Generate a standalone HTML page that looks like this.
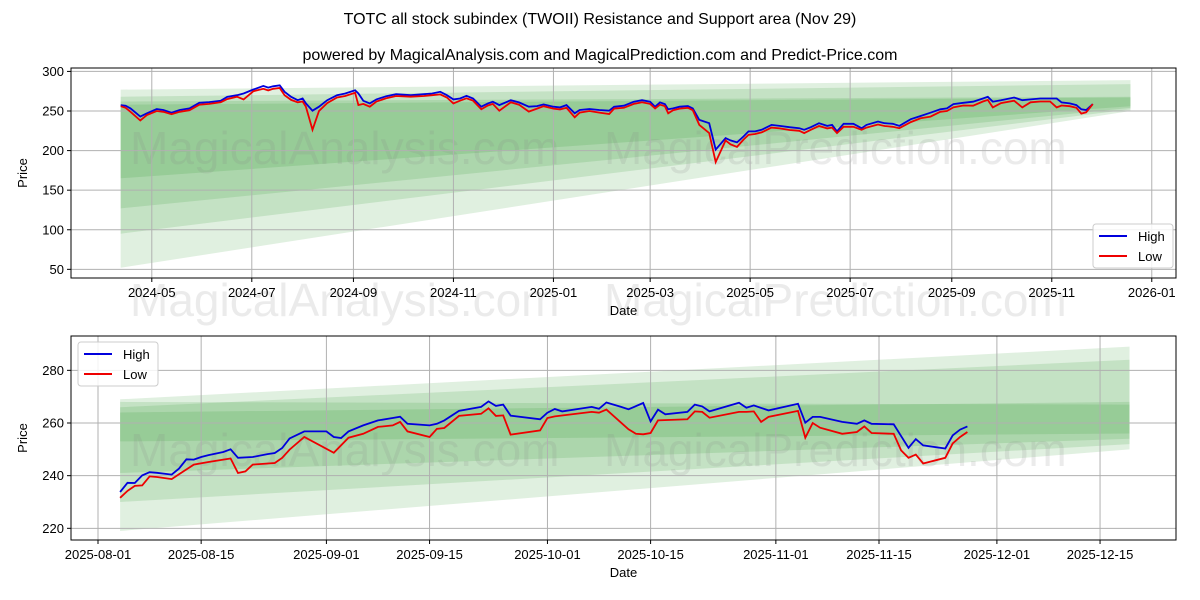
<!DOCTYPE html>
<html><head><meta charset="utf-8"><style>
body{margin:0;background:#fff;}
svg{display:block;font-family:"Liberation Sans","DejaVu Sans",sans-serif;}
</style></head><body>
<svg id="chart" width="1200" height="600" xmlns="http://www.w3.org/2000/svg">
<rect width="1200" height="600" fill="#fff"/>
<text x="600" y="24" text-anchor="middle" font-size="16">TOTC all stock subindex (TWOII) Resistance and Support area (Nov 29)</text>
<text x="600" y="60" text-anchor="middle" font-size="16">powered by MagicalAnalysis.com and MagicalPrediction.com and Predict-Price.com</text>
<g id="top"></g>
<g id="bot"></g>
</svg>
<script>
// ---- top chart data (day offset from 2024-05-01) ----
const topDays=[-19,-16,-13,-7,-3,3,7,12,17,23,29,35,42,46,52,56,62,68,71,74,78,81,85,89,92,94,98,102,107,113,118,124,126,129,133,137,143,149,158,166,171,176,180,184,188,192,196,201,205,208,212,219,224,230,235,239,245,249,253,258,261,267,273,279,282,288,294,299,304,307,310,313,315,318,322,327,330,334,340,344,350,353,357,361,364,368,372,378,383,389,395,398,402,407,412,415,418,422,428,433,436,443,447,452,456,463,469,475,481,485,489,495,501,507,510,513,518,526,531,536,542,548,552,555,560,564,567,570,574];
const topHigh=[257.5,256.7,253.3,242.9,247.1,252.5,251.2,247.9,251.2,253.3,260.4,261.2,262.9,267.9,270,272.1,277.1,281.7,279.6,281.2,282.5,274.2,267.9,263.7,265.8,259.6,250.4,255.4,263.7,270,272.1,276.2,272.1,262.9,259.6,264.6,268.7,271.2,270,271.2,272.1,274.2,270,264.6,265.8,269.2,265.8,255.4,259.6,261.7,257.5,263.7,260.8,255.4,256.2,258.3,255.4,254.6,257.5,247.1,251.2,252.5,251.2,250.4,255.4,256.7,261.7,263.7,261.7,255.4,260.8,258.7,252.1,253.3,255.4,256.2,253.3,238.7,234.6,201.2,215.8,212.9,210.4,217.9,224.2,224.2,226.2,232.5,231.2,229.6,228.3,226.2,229.6,234.6,231.2,232.5,224.2,233.8,233.8,228.3,232.5,236.7,234.6,233.8,231.2,239.6,243.7,247.9,252.1,253.3,258.7,260.4,261.7,265.8,267.9,261.7,263.7,267.1,263.7,264.6,265.8,265.8,265.8,260.8,259.6,257.5,252.1,251.2,258.7];
const topLow=[256,254,249,238,245,250,249,246,249,251,258,259,261,265,268,264.6,275,278,276,278,279,270,264,261,262,255.4,226.3,250,260,267,269,273,257.5,259,255.4,262,266,269,268,269,270,271,267,259.6,263,266,263,252.1,257,259,250.4,261,258,249.2,253,256,253,252,254,242.1,248,250,248,246.2,253,254,259,261,259,253.3,258,256,247.1,251,253,254,251,232.5,222.1,185.4,212.9,208,204.6,214,220,221,223,229,228,226,225,222.1,226.2,231,228,229,222.1,230,230,226.2,229,233,231,230,228.3,236,240.8,242.9,249,250,254.6,257,256.7,262,264,254.6,260,263,254.6,261,262,262,254.6,257,256,254,246.7,248.3,258.7];
const topYTicks=[50,100,150,200,250,300];
const topXTickLabels=["2024-05","2024-07","2024-09","2024-11","2025-01","2025-03","2025-05","2025-07","2025-09","2025-11","2026-01"];
const topXTickDays=[0,61,123,184,245,304,365,426,488,549,610];
const topBandStart=[-19,597];
const topBandsLo=[[52,250],[95,252],[127,254],[165,256]];
const topBandsHi=[[277,289],[268,284],[262,268],[258,267]];

// ---- bottom chart data (day offset from 2025-08-01) ----
const botHighDays=[3,4,5,6,7,8,10,11,12,13,14,15,17,18,19,21,23,24,25,26,28,31,32,33,34,36,38,40,41,42,45,46,47,49,52,53,54,55,56,60,61,62,63,67,68,69,71,72,74,75,76,77,80,81,82,83,87,88,89,91,95,96,97,98,101,103,104,105,108,110,111,112,115,116,117,118];
const botHigh=[233.8,237.3,237.2,240.1,241.3,241.1,240.4,242.7,246.2,246.1,247.1,247.8,249.0,250.0,246.8,247.1,248.2,248.6,250.5,254.1,256.8,256.8,254.7,254.3,256.8,259.1,261.0,261.9,262.4,259.7,259.1,259.7,261.0,264.6,266.1,268.2,266.5,267.0,262.8,261.4,263.9,265.3,264.4,266.1,265.4,267.8,266.1,265.2,267.6,260.6,265.1,263.3,264.2,267.0,266.3,264.4,267.7,265.8,266.7,264.8,267.3,260.1,262.3,262.3,260.4,259.7,261.0,259.7,259.5,250.6,253.9,251.5,250.3,255.3,257.5,258.7];
const botLowDays=[3,4,5,6,7,8,10,11,13,15,17,18,19,20,21,24,25,26,28,32,34,36,38,40,41,42,45,46,47,49,52,53,54,55,56,60,61,62,67,68,69,72,73,74,75,76,80,81,82,83,87,88,89,90,91,95,96,97,98,101,103,104,105,108,109,110,111,112,115,116,117,118];
const botLow=[231.6,234.2,236.1,236.3,239.7,239.5,238.7,240.5,244.2,245.2,246.1,246.5,241.0,241.6,244.2,244.8,246.8,249.9,254.7,248.7,254.4,255.9,258.5,259.1,260.4,256.8,254.7,257.8,258.1,262.7,263.5,265.6,262.7,262.9,255.6,257.2,261.9,262.5,264.2,263.9,265.1,257.6,255.9,255.7,256.2,261.0,261.4,264.4,264.2,262.0,264.2,264.2,264.4,260.4,262.3,264.6,254.4,260.0,258.2,255.9,256.6,258.7,256.2,255.9,249.6,246.8,248.0,244.6,246.8,252.2,254.7,256.6];
const botYTicks=[220,240,260,280];
const botXTickLabels=["2025-08-01","2025-08-15","2025-09-01","2025-09-15","2025-10-01","2025-10-15","2025-11-01","2025-11-15","2025-12-01","2025-12-15"];
const botXTickDays=[0,14,31,45,61,75,92,106,122,136];
const botBandStart=[3,140];
const botBandsLo=[[219,250],[230,252],[241,254],[253,256]];
const botBandsHi=[[269,289],[266,284],[264,268],[268,267]];

const NS="http://www.w3.org/2000/svg";
function mk(parent,tag,attrs){const e=document.createElementNS(NS,tag);for(const k in attrs)e.setAttribute(k,attrs[k]);parent.appendChild(e);return e;}

function panel(g,cfg){
  const {L,R,T,B,x,y}=cfg;
  cfg.bLo.forEach((lo,i)=>{
    const hi=cfg.bHi[i];
    const d0=cfg.bStart[0],d1=cfg.bStart[1];
    const p=mk(g,'polygon',{points:`${x(d0)},${y(lo[0])} ${x(d1)},${y(lo[1])} ${x(d1)},${y(hi[1])} ${x(d0)},${y(hi[0])}`,fill:'green','fill-opacity':0.12});
    
    
  });
  cfg.wm.forEach(w=>{
    const t=mk(g,'text',{x:w[0],y:w[1],'font-size':46,fill:'#888','fill-opacity':0.17});
    t.textContent=w[2];
    
    
  });
  cfg.yt.forEach(v=>{
    mk(g,'line',{x1:L,x2:R,y1:y(v),y2:y(v),stroke:'#b0b0b0','stroke-width':1});
    mk(g,'line',{x1:L-4,x2:L,y1:y(v),y2:y(v),stroke:'#000'});
    const t=mk(g,'text',{x:L-7,y:y(v)+4.5,'text-anchor':'end','font-size':13});
    t.textContent=v;
    
    
  });
  cfg.xd.forEach((d,i)=>{
    mk(g,'line',{x1:x(d),x2:x(d),y1:T,y2:B,stroke:'#b0b0b0','stroke-width':1});
    mk(g,'line',{x1:x(d),x2:x(d),y1:B,y2:B+4,stroke:'#000'});
    const t=mk(g,'text',{x:x(d),y:B+19,'text-anchor':'middle','font-size':13});
    t.textContent=cfg.xl[i];
    
    
  });
  const pts=(ds,vs)=>ds.map((d,i)=>`${x(d).toFixed(1)},${y(vs[i]).toFixed(1)}`).join(' ');
  const hl=mk(g,'polyline',{points:pts(cfg.hd,cfg.h),fill:'none',stroke:'#0000dd','stroke-width':1.8});
  
  
  const ll=mk(g,'polyline',{points:pts(cfg.ld,cfg.l),fill:'none',stroke:'#ee0000','stroke-width':1.8});
  
  
  mk(g,'rect',{x:L,y:T,width:R-L,height:B-T,fill:'none',stroke:'#000','stroke-width':1});
  const yl=mk(g,'text',{x:0,y:0,'font-size':13,'text-anchor':'middle',transform:`translate(27,${(T+B)/2}) rotate(-90)`});
  yl.textContent='Price';
  
  
  const xl=mk(g,'text',{x:(L+R)/2,y:B+37,'font-size':13,'text-anchor':'middle'});
  xl.textContent='Date';
  
  
  const [lx,ly]=cfg.leg;
  const lg=mk(g,'g',{});
  
  
  mk(lg,'rect',{x:lx,y:ly,width:80,height:44,rx:3,fill:'#fff','fill-opacity':0.85,stroke:'#ccc'});
  mk(lg,'line',{x1:lx+6,x2:lx+34,y1:ly+12,y2:ly+12,stroke:'#0000dd','stroke-width':2});
  mk(lg,'line',{x1:lx+6,x2:lx+34,y1:ly+32,y2:ly+32,stroke:'#ee0000','stroke-width':2});
  const t1=mk(lg,'text',{x:lx+45,y:ly+17,'font-size':13});t1.textContent='High';
  
  
  const t2=mk(lg,'text',{x:lx+45,y:ly+37,'font-size':13});t2.textContent='Low';
  
  
}

const topX=d=>151.8+d*1.6393, topY=v=>111+(250-v)*0.7917;
panel(document.getElementById('top'),{L:71,R:1176,T:68,B:278,x:topX,y:topY,yt:topYTicks,xd:topXTickDays,xl:topXTickLabels,
  hd:topDays,h:topHigh,ld:topDays,l:topLow,bStart:topBandStart,bLo:topBandsLo,bHi:topBandsHi,leg:[1093,224],
  wm:[[130,164,'MagicalAnalysis.com'],[604,164,'MagicalPrediction.com'],[130,316,'MagicalAnalysis.com'],[604,316,'MagicalPrediction.com']]});
const botX=d=>98+d*7.368, botY=v=>423+(260-v)*2.633;
panel(document.getElementById('bot'),{L:71,R:1176,T:336,B:540,x:botX,y:botY,yt:botYTicks,xd:botXTickDays,xl:botXTickLabels,
  hd:botHighDays,h:botHigh,ld:botLowDays,l:botLow,bStart:botBandStart,bLo:botBandsLo,bHi:botBandsHi,leg:[78,342],
  wm:[[130,466,'MagicalAnalysis.com'],[604,466,'MagicalPrediction.com']]});
</script>
</body></html>
